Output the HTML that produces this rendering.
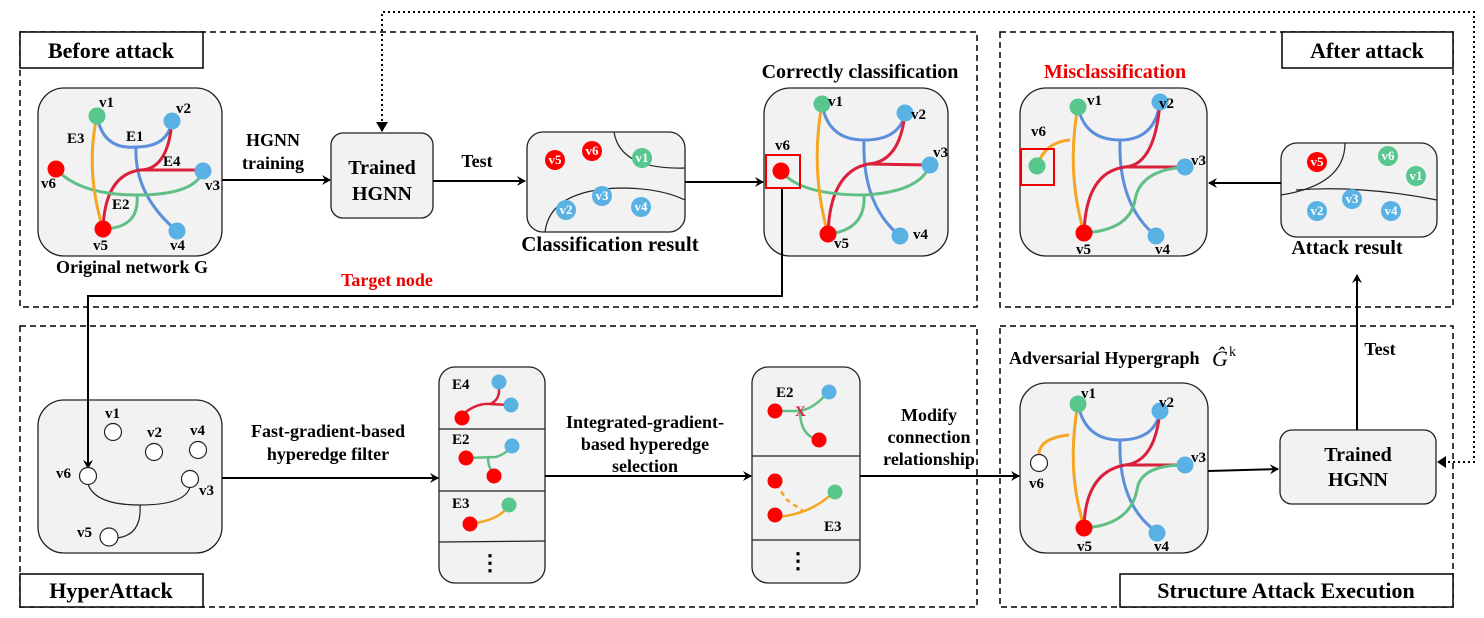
<!DOCTYPE html>
<html><head><meta charset="utf-8"><style>
html,body{margin:0;padding:0;background:#fff}
svg{display:block}
text{font-family:"Liberation Serif",serif;font-weight:bold;fill:#000}
</style></head><body>
<svg width="1484" height="618" viewBox="0 0 1484 618" xmlns="http://www.w3.org/2000/svg">
<defs>
<marker id="ah" markerWidth="10" markerHeight="10" refX="8" refY="5" orient="auto" markerUnits="userSpaceOnUse">
<path d="M0,0 L9,5 L0,10 L3,5 z" fill="#000"/></marker>
</defs>
<g fill="none" stroke="#000" stroke-width="1.5" stroke-dasharray="6,4">
<rect x="20" y="32" width="957" height="275"/>
<rect x="20" y="326" width="957" height="281"/>
<rect x="1000" y="32" width="453" height="275"/>
<rect x="1000" y="326" width="453" height="281"/>
</g>
<g fill="#fff" stroke="#000" stroke-width="1.5">
<rect x="20" y="32" width="183" height="36"/>
<rect x="20" y="574" width="183" height="33"/>
<rect x="1282" y="32" width="171" height="36"/>
<rect x="1120" y="574" width="333" height="33"/>
</g>
<g font-size="22" text-anchor="middle">
<text x="111" y="58">Before attack</text>
<text x="111" y="598">HyperAttack</text>
<text x="1367" y="58">After attack</text>
<text x="1286" y="598">Structure Attack Execution</text>
</g>
<!-- boxes -->
<g fill="#f2f2f2" stroke="#222" stroke-width="1.3">
<rect x="38" y="88" width="184" height="168" rx="26"/>
<rect x="331" y="133" width="102" height="85" rx="12"/>
<rect x="527" y="132" width="158" height="100" rx="16"/>
<rect x="764" y="88" width="184" height="168" rx="26"/>
<rect x="38" y="400" width="184" height="153" rx="26"/>
<rect x="439" y="367" width="106" height="216" rx="16"/>
<rect x="752" y="367" width="108" height="216" rx="16"/>
<rect x="1020" y="383" width="188" height="170" rx="26"/>
<rect x="1280" y="430" width="156" height="74" rx="12"/>
<rect x="1281" y="143" width="156" height="94" rx="16"/>
<rect x="1020" y="88" width="187" height="168" rx="26"/>
</g>
<!-- dotted loop -->
<path d="M382,131 L382,12 L1474,12 L1474,462 L1446,462" fill="none" stroke="#000" stroke-width="2" stroke-dasharray="2,3"/>
<path d="M376,122 L382,132 L388,122 z" fill="#000"/>
<path d="M1446,456 L1437,462 L1446,468 z" fill="#000"/>
<g font-size="20" text-anchor="middle">
<text x="382" y="174">Trained</text><text x="382" y="200">HGNN</text>
<text x="1358" y="461">Trained</text><text x="1358" y="486">HGNN</text>
</g>
<!-- arrows -->
<g stroke="#000" stroke-width="2" fill="none" marker-end="url(#ah)">
<path d="M222,180 L330,180"/>
<path d="M433,181 L525,181"/>
<path d="M685,182 L763,182"/>
<path d="M782,188 L782,296 L88,296 L88,468"/>
<path d="M222,478 L438,478"/>
<path d="M545,476 L751,476"/>
<path d="M860,476 L1019,476"/>
<path d="M1208,471 L1278,469"/>
<path d="M1357,430 L1357,275"/>
<path d="M1281,183 L1209,183"/>
</g>
<g font-size="18" text-anchor="middle">
<text x="273" y="146">HGNN</text><text x="273" y="169">training</text>
<text x="477" y="167">Test</text>
<text x="1380" y="355">Test</text>
<text x="610" y="251" font-size="21">Classification result</text>
<text x="860" y="78" font-size="20">Correctly classification</text>
<text x="1115" y="78" font-size="20" style="fill:#e00">Misclassification</text>
<text x="1347" y="254" font-size="20">Attack  result</text>
<text x="132" y="273" font-size="18">Original network G</text>
<text x="387" y="286" style="fill:#e00">Target node</text>
<text x="328" y="437">Fast-gradient-based</text><text x="328" y="460">hyperedge filter</text>
<text x="645" y="428">Integrated-gradient-</text><text x="645" y="450">based hyperedge</text><text x="645" y="472">selection</text>
<text x="929" y="421">Modify</text><text x="929" y="443">connection</text><text x="929" y="465">relationship</text>
<text x="1009" y="364" text-anchor="start" font-size="18">Adversarial Hypergraph</text>
<text x="1212" y="366" text-anchor="start" font-size="22" font-style="italic" style="font-weight:normal">Ĝ</text>
<text x="1229" y="356" text-anchor="start" font-size="14" style="font-weight:normal">k</text>
</g>
<!-- Graph 1 -->
<g fill="none" stroke-width="3">
<path d="M97,116 Q103,150 136,147 Q168,147 172,121" stroke="#5b8fdc"/>
<path d="M136,147 Q134,195 177,231" stroke="#5b8fdc"/>
<path d="M172,121 Q168,170 140,170 L203,170" stroke="#d9213b"/>
<path d="M140,170 Q105,175 103,229" stroke="#d9213b"/>
<path d="M56,169 Q80,195 137,195 Q195,195 203,171" stroke="#5fbf85"/>
<path d="M137,195 Q140,228 103,229" stroke="#5fbf85"/>
<path d="M97,116 Q85,170 103,229" stroke="#f5a623"/>
</g>
<g>
<circle cx="97" cy="116" r="8.5" fill="#57c78d"/><circle cx="172" cy="121" r="8.5" fill="#5ab2e4"/>
<circle cx="56" cy="169" r="8.5" fill="#f00"/><circle cx="203" cy="171" r="8.5" fill="#5ab2e4"/>
<circle cx="103" cy="229" r="8.5" fill="#f00"/><circle cx="177" cy="231" r="8.5" fill="#5ab2e4"/>
</g>
<g font-size="15">
<text x="99" y="107">v1</text><text x="176" y="113">v2</text><text x="41" y="188">v6</text><text x="205" y="190">v3</text>
<text x="93" y="250">v5</text><text x="170" y="250">v4</text>
<text x="67" y="143">E3</text><text x="126" y="141">E1</text><text x="163" y="166">E4</text><text x="112" y="209">E2</text>
</g>
<!-- classification result -->
<path d="M614,132 Q620,170 685,168" fill="none" stroke="#222" stroke-width="1.2"/>
<path d="M545,232 Q550,190 620,188 Q660,188 685,200" fill="none" stroke="#222" stroke-width="1.2"/>
<g font-size="13">
<circle cx="555" cy="160" r="10" fill="#f00"/><text x="555" y="164" text-anchor="middle" style="fill:#fff">v5</text>
<circle cx="592" cy="151" r="10" fill="#f00"/><text x="592" y="155" text-anchor="middle" style="fill:#fff">v6</text>
<circle cx="642" cy="158" r="10" fill="#57c78d"/><text x="642" y="162" text-anchor="middle" style="fill:#fff">v1</text>
<circle cx="566" cy="210" r="10" fill="#5ab2e4"/><text x="566" y="214" text-anchor="middle" style="fill:#fff">v2</text>
<circle cx="602" cy="196" r="10" fill="#5ab2e4"/><text x="602" y="200" text-anchor="middle" style="fill:#fff">v3</text>
<circle cx="641" cy="207" r="10" fill="#5ab2e4"/><text x="641" y="211" text-anchor="middle" style="fill:#fff">v4</text>
</g>
<!-- attack result -->
<path d="M1345,143 Q1345,185 1281,195" fill="none" stroke="#222" stroke-width="1.2"/>
<path d="M1296,190 Q1360,185 1437,200" fill="none" stroke="#222" stroke-width="1.2"/>
<g font-size="13">
<circle cx="1317" cy="162" r="10" fill="#f00"/><text x="1317" y="166" text-anchor="middle" style="fill:#fff">v5</text>
<circle cx="1388" cy="156" r="10" fill="#57c78d"/><text x="1388" y="160" text-anchor="middle" style="fill:#fff">v6</text>
<circle cx="1416" cy="176" r="10" fill="#57c78d"/><text x="1416" y="180" text-anchor="middle" style="fill:#fff">v1</text>
<circle cx="1317" cy="211" r="10" fill="#5ab2e4"/><text x="1317" y="215" text-anchor="middle" style="fill:#fff">v2</text>
<circle cx="1352" cy="199" r="10" fill="#5ab2e4"/><text x="1352" y="203" text-anchor="middle" style="fill:#fff">v3</text>
<circle cx="1391" cy="211" r="10" fill="#5ab2e4"/><text x="1391" y="215" text-anchor="middle" style="fill:#fff">v4</text>
</g>
<!-- correctly classification graph -->
<g fill="none" stroke-width="3">
<path d="M822,104 Q828,140 864,140 Q900,140 905,113" stroke="#5b8fdc"/>
<path d="M864,140 Q862,205 900,236" stroke="#5b8fdc"/>
<path d="M905,113 Q900,162 868,164 L930,165" stroke="#d9213b"/>
<path d="M868,164 Q830,172 828,234" stroke="#d9213b"/>
<path d="M781,171 Q800,195 864,195 Q920,192 930,165" stroke="#5fbf85"/>
<path d="M864,195 Q866,230 828,234" stroke="#5fbf85"/>
<path d="M822,104 Q810,170 828,234" stroke="#f5a623"/>
</g>
<rect x="766" y="155" width="34" height="33" fill="none" stroke="#e00" stroke-width="2"/>
<circle cx="822" cy="104" r="8.5" fill="#57c78d"/><circle cx="905" cy="113" r="8.5" fill="#5ab2e4"/>
<circle cx="781" cy="171" r="8.5" fill="#f00"/><circle cx="930" cy="165" r="8.5" fill="#5ab2e4"/>
<circle cx="828" cy="234" r="8.5" fill="#f00"/><circle cx="900" cy="236" r="8.5" fill="#5ab2e4"/>
<g font-size="15">
<text x="828" y="106">v1</text><text x="911" y="119">v2</text><text x="775" y="150">v6</text><text x="933" y="157">v3</text>
<text x="834" y="248">v5</text><text x="913" y="239">v4</text>
</g>
<!-- misclassification graph -->
<g fill="none" stroke-width="3">
<path d="M1078,107 Q1085,140 1120,140 Q1155,140 1160,102" stroke="#5b8fdc"/>
<path d="M1120,140 Q1118,205 1156,236" stroke="#5b8fdc"/>
<path d="M1160,102 Q1155,165 1125,167 L1185,167" stroke="#d9213b"/>
<path d="M1125,167 Q1086,172 1084,233" stroke="#d9213b"/>
<path d="M1185,167 Q1140,170 1135,200 Q1130,230 1084,233" stroke="#5fbf85"/>
<path d="M1078,107 Q1066,170 1084,233" stroke="#f5a623"/>
<path d="M1037,166 Q1045,142 1070,140" stroke="#f5a623"/>
</g>
<rect x="1021" y="149" width="33" height="36" fill="none" stroke="#e00" stroke-width="2"/>
<circle cx="1078" cy="107" r="8.5" fill="#57c78d"/><circle cx="1160" cy="102" r="8.5" fill="#5ab2e4"/>
<circle cx="1037" cy="166" r="8.5" fill="#57c78d"/><circle cx="1185" cy="167" r="8.5" fill="#5ab2e4"/>
<circle cx="1084" cy="233" r="8.5" fill="#f00"/><circle cx="1156" cy="236" r="8.5" fill="#5ab2e4"/>
<g font-size="15">
<text x="1087" y="105">v1</text><text x="1159" y="108">v2</text><text x="1031" y="136">v6</text><text x="1191" y="165">v3</text>
<text x="1076" y="254">v5</text><text x="1155" y="254">v4</text>
</g>
<!-- hyperattack graph -->
<g fill="none" stroke="#222" stroke-width="1.2">
<path d="M88,484 Q95,505 140,505 Q185,505 190,487"/>
<path d="M140,505 Q142,535 117,538"/>
</g>
<g fill="#fff" stroke="#222" stroke-width="1.2">
<circle cx="113" cy="432" r="8.5"/><circle cx="154" cy="452" r="8.5"/><circle cx="198" cy="450" r="8.5"/>
<circle cx="88" cy="476" r="8.5"/><circle cx="190" cy="479" r="8.5"/><circle cx="109" cy="537" r="9"/>
</g>
<g font-size="15">
<text x="105" y="418">v1</text><text x="147" y="437">v2</text><text x="190" y="435">v4</text>
<text x="56" y="478">v6</text><text x="199" y="495">v3</text><text x="77" y="537">v5</text>
</g>
<!-- list boxes -->
<g stroke="#222" stroke-width="1.2"><line x1="439" y1="429" x2="545" y2="429"/><line x1="439" y1="491" x2="545" y2="491"/><line x1="439" y1="542" x2="545" y2="541"/>
<line x1="752" y1="456" x2="860" y2="456"/><line x1="752" y1="540" x2="860" y2="540"/></g>
<g fill="none" stroke-width="2.5">
<path d="M461,416 Q475,403 490,404 Q500,400 499,388" stroke="#d9213b"/>
<path d="M490,404 L509,405" stroke="#d9213b"/>
<path d="M466,458 L496,457 Q503,455 511,448" stroke="#5fbf85"/>
<path d="M488,457 Q488,470 495,473" stroke="#5fbf85"/>
<path d="M470,524 Q500,520 508,506" stroke="#f5a623"/>
<path d="M776,411 L800,411 Q815,408 827,393" stroke="#5fbf85"/>
<path d="M800,411 Q800,435 818,440" stroke="#5fbf85"/>
<path d="M776,517 Q810,515 834,492" stroke="#f5a623"/>
<path d="M776,484 L787,500 L803,511" stroke="#f5a623" stroke-dasharray="5,4"/>
</g>
<g>
<circle cx="499" cy="382" r="7.5" fill="#5ab2e4"/><circle cx="511" cy="405" r="7.5" fill="#5ab2e4"/><circle cx="462" cy="418" r="7.5" fill="#f00"/>
<circle cx="466" cy="458" r="7.5" fill="#f00"/><circle cx="512" cy="446" r="7.5" fill="#5ab2e4"/><circle cx="494" cy="476" r="7.5" fill="#f00"/>
<circle cx="470" cy="524" r="7.5" fill="#f00"/><circle cx="509" cy="505" r="7.5" fill="#57c78d"/>
<circle cx="775" cy="411" r="7.5" fill="#f00"/><circle cx="829" cy="392" r="7.5" fill="#5ab2e4"/><circle cx="819" cy="440" r="7.5" fill="#f00"/>
<circle cx="775" cy="481" r="7.5" fill="#f00"/><circle cx="775" cy="515" r="7.5" fill="#f00"/><circle cx="835" cy="492" r="7.5" fill="#57c78d"/>
</g>
<g font-size="15">
<text x="452" y="389">E4</text><text x="452" y="444">E2</text><text x="452" y="508">E3</text>
<text x="776" y="397">E2</text><text x="824" y="531">E3</text>
<text x="795" y="416" style="fill:#d9213b">X</text>
</g>
<g font-size="22" text-anchor="middle"><text x="490" y="570">⋮</text><text x="798" y="568">⋮</text></g>
<!-- adversarial graph -->
<g fill="none" stroke-width="3">
<path d="M1078,404 Q1085,440 1120,440 Q1155,440 1160,411" stroke="#5b8fdc"/>
<path d="M1120,440 Q1118,505 1157,532" stroke="#5b8fdc"/>
<path d="M1160,411 Q1155,462 1125,465 L1185,465" stroke="#d9213b"/>
<path d="M1125,465 Q1086,472 1084,526" stroke="#d9213b"/>
<path d="M1185,465 Q1140,465 1137,490 Q1130,525 1084,528" stroke="#5fbf85"/>
<path d="M1078,404 Q1066,470 1084,526" stroke="#f5a623"/>
<path d="M1039,454 Q1040,438 1069,435" stroke="#f5a623"/>
</g>
<circle cx="1078" cy="404" r="8.5" fill="#57c78d"/><circle cx="1160" cy="411" r="8.5" fill="#5ab2e4"/>
<circle cx="1039" cy="463" r="8.5" fill="#fff" stroke="#222" stroke-width="1.2"/><circle cx="1185" cy="465" r="8.5" fill="#5ab2e4"/>
<circle cx="1084" cy="528" r="8.5" fill="#f00"/><circle cx="1157" cy="533" r="8.5" fill="#5ab2e4"/>
<g font-size="15">
<text x="1081" y="398">v1</text><text x="1159" y="407">v2</text><text x="1029" y="488">v6</text><text x="1191" y="462">v3</text>
<text x="1077" y="551">v5</text><text x="1154" y="551">v4</text>
</g>
</svg>
</body></html>
